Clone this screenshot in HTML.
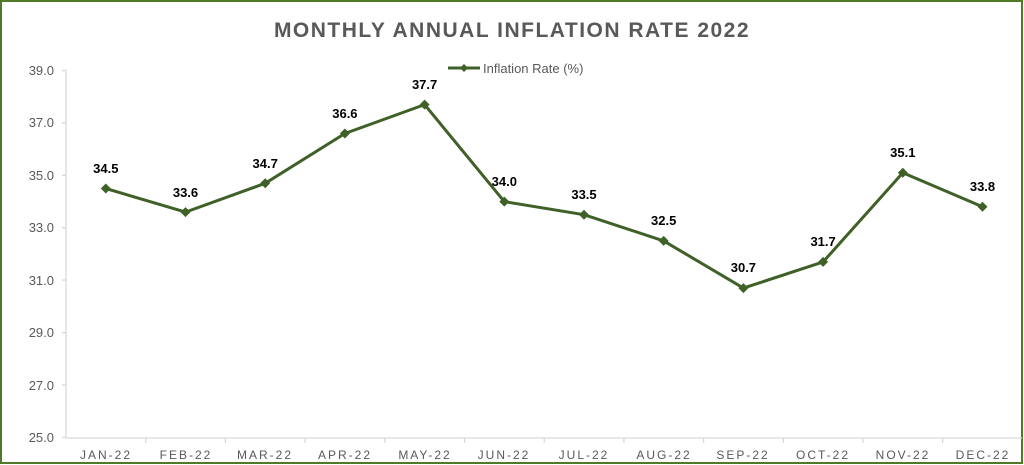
<!DOCTYPE html>
<html><head><meta charset="utf-8"><style>
html,body{margin:0;padding:0;background:#fff}
svg{display:block}
text{font-family:"Liberation Sans",sans-serif}
</style></head><body>
<svg width="1024" height="465" viewBox="0 0 1024 465" xmlns="http://www.w3.org/2000/svg">
<rect x="1" y="1" width="1021" height="462" fill="#fff" stroke="#4f7a28" stroke-width="2"/>
<text x="512" y="37" text-anchor="middle" font-size="21" font-weight="bold" fill="#595959" letter-spacing="1.5">MONTHLY ANNUAL INFLATION RATE 2022</text>
<g stroke="#d9d9d9" stroke-width="1.3">
<line x1="66" y1="70" x2="66" y2="438"/>
<line x1="66" y1="438" x2="1022" y2="438"/>
<line x1="62" y1="70.5" x2="66" y2="70.5"/><line x1="62" y1="122.9" x2="66" y2="122.9"/><line x1="62" y1="175.3" x2="66" y2="175.3"/><line x1="62" y1="227.7" x2="66" y2="227.7"/><line x1="62" y1="280.1" x2="66" y2="280.1"/><line x1="62" y1="332.6" x2="66" y2="332.6"/><line x1="62" y1="385" x2="66" y2="385"/><line x1="62" y1="437.5" x2="66" y2="437.5"/>
<line x1="145.7" y1="438" x2="145.7" y2="443"/><line x1="225.4" y1="438" x2="225.4" y2="443"/><line x1="305.1" y1="438" x2="305.1" y2="443"/><line x1="384.8" y1="438" x2="384.8" y2="443"/><line x1="464.5" y1="438" x2="464.5" y2="443"/><line x1="544.2" y1="438" x2="544.2" y2="443"/><line x1="623.9" y1="438" x2="623.9" y2="443"/><line x1="703.6" y1="438" x2="703.6" y2="443"/><line x1="783.3" y1="438" x2="783.3" y2="443"/><line x1="863" y1="438" x2="863" y2="443"/><line x1="942.7" y1="438" x2="942.7" y2="443"/>
</g>
<g font-size="13" fill="#595959" text-anchor="end">
<text x="54" y="75">39.0</text><text x="54" y="127">37.0</text><text x="54" y="180">35.0</text><text x="54" y="232">33.0</text><text x="54" y="285">31.0</text><text x="54" y="337">29.0</text><text x="54" y="390">27.0</text><text x="54" y="442">25.0</text>
</g>
<g font-size="12" fill="#595959" text-anchor="middle" letter-spacing="2">
<text x="106" y="459">JAN-22</text><text x="186" y="459">FEB-22</text><text x="265" y="459">MAR-22</text><text x="345" y="459">APR-22</text><text x="425" y="459">MAY-22</text><text x="504" y="459">JUN-22</text><text x="584" y="459">JUL-22</text><text x="664" y="459">AUG-22</text><text x="743" y="459">SEP-22</text><text x="823" y="459">OCT-22</text><text x="903" y="459">NOV-22</text><text x="983" y="459">DEC-22</text>
</g>
<line x1="448" y1="68" x2="480" y2="68" stroke="#3f6128" stroke-width="3"/>
<path d="M464 64 L468 68 L464 72 L460 68Z" fill="#3f6128"/>
<text x="483" y="73" font-size="13" fill="#595959">Inflation Rate (%)</text>
<polyline fill="none" stroke="#3f6128" stroke-width="3" stroke-linejoin="round" points="105.8,188.5 185.5,212.1 265.2,183.3 344.9,133.5 424.6,104.6 504.3,201.6 584,214.7 663.7,240.9 743.4,288.1 823.1,261.9 902.8,172.8 982.5,206.8"/>
<g fill="#3f6128">
<path d="M105.8 183.5l5 5-5 5-5-5z"/><path d="M185.5 207.1l5 5-5 5-5-5z"/><path d="M265.2 178.3l5 5-5 5-5-5z"/><path d="M344.9 128.5l5 5-5 5-5-5z"/><path d="M424.6 99.6l5 5-5 5-5-5z"/><path d="M504.3 196.6l5 5-5 5-5-5z"/><path d="M584 209.7l5 5-5 5-5-5z"/><path d="M663.7 235.9l5 5-5 5-5-5z"/><path d="M743.4 283.1l5 5-5 5-5-5z"/><path d="M823.1 256.9l5 5-5 5-5-5z"/><path d="M902.8 167.8l5 5-5 5-5-5z"/><path d="M982.5 201.8l5 5-5 5-5-5z"/>
</g>
<g font-size="13" font-weight="bold" fill="#000" text-anchor="middle">
<text x="105.8" y="173">34.5</text><text x="185.5" y="197">33.6</text><text x="265.2" y="168">34.7</text><text x="344.9" y="118">36.6</text><text x="424.6" y="89">37.7</text><text x="504.3" y="186">34.0</text><text x="584" y="199">33.5</text><text x="663.7" y="225">32.5</text><text x="743.4" y="272">30.7</text><text x="823.1" y="246">31.7</text><text x="902.8" y="157">35.1</text><text x="982.5" y="191">33.8</text>
</g>
</svg>
</body></html>
